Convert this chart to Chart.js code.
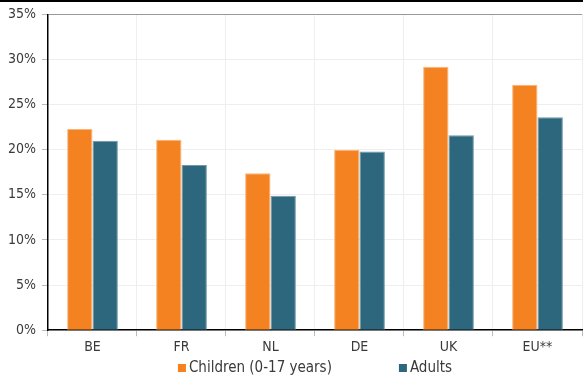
<!DOCTYPE html>
<html>
<head>
<meta charset="utf-8">
<script src="https://cdn.jsdelivr.net/npm/chart.js@4/dist/chart.umd.min.js"></script>
<style>
  html, body { margin: 0; padding: 0; background: #fff; }
  #wrap { width: 583px; height: 379px; position: relative; }
</style>
</head>
<body>
<div id="wrap"><canvas id="chart"></canvas></div>
<script>
// Share of people at risk of poverty, by country
const countries = ['BE', 'FR', 'NL', 'DE', 'UK', 'EU**'];
const children = [22.3, 21.1, 17.4, 20.0, 29.2, 27.2];
const adults = [21.0, 18.3, 14.9, 19.8, 21.6, 23.6];
const yTicks = [0, 5, 10, 15, 20, 25, 30, 35];

const FONT = '"DejaVu Sans Condensed", "DejaVu Sans", sans-serif';
const TEXT = '#3a3a3a';

// Thin frame line along the top of the canvas
const topFrame = {
  id: 'topFrame',
  afterDraw(chart) {
    const ctx = chart.ctx;
    ctx.save();
    ctx.strokeStyle = '#000';
    ctx.lineWidth = 2;
    ctx.beginPath();
    ctx.moveTo(0, 1);
    ctx.lineTo(chart.width, 1);
    ctx.stroke();
    ctx.restore();
  }
};

// Legend row under the axis, centred on the plot area, with a wide gap between entries
const bottomLegend = {
  id: 'bottomLegend',
  afterDraw(chart) {
    const ctx = chart.ctx;
    const area = chart.chartArea;
    const box = 8, gap = 3, spacing = 67;
    ctx.save();
    ctx.font = '15px ' + FONT;
    ctx.textBaseline = 'middle';
    const items = chart.data.datasets.map(ds => ({
      text: ds.label,
      color: ds.backgroundColor,
      w: box + gap + ctx.measureText(ds.label).width
    }));
    const total = items.reduce((s, it) => s + it.w, 0) + spacing * (items.length - 1);
    let x = (area.left + area.right) / 2 - total / 2;
    const y = chart.height - 11;
    items.forEach(it => {
      ctx.fillStyle = it.color;
      ctx.fillRect(x, y - box / 2, box, box);
      ctx.fillStyle = TEXT;
      ctx.fillText(it.text, x + box + gap, y);
      x += it.w + spacing;
    });
    ctx.restore();
  }
};

new Chart(document.getElementById('chart'), {
  type: 'bar',
  data: {
    labels: countries,
    datasets: [
      {
        label: 'Children (0-17 years)',
        data: children,
        backgroundColor: '#F48220',
        borderColor: '#F9B37C',
        borderWidth: 1
      },
      {
        label: 'Adults',
        data: adults,
        backgroundColor: '#2D677D',
        borderColor: '#6F98A8',
        borderWidth: 1
      }
    ]
  },
  options: {
    responsive: true,
    maintainAspectRatio: false,
    animation: false,
    layout: { padding: { top: 13, right: 1, left: 2, bottom: 20 } },
    datasets: {
      bar: { categoryPercentage: 0.57, barPercentage: 1.0 }
    },
    plugins: {
      tooltip: { enabled: false },
      legend: { display: false }
    },
    scales: {
      x: {
        grid: {
          offset: true,
          color: '#eeeeee',
          tickColor: '#bbbbbb',
          tickLength: 6
        },
        border: { color: '#000', width: 1.5 },
        ticks: { color: TEXT, font: { family: FONT, size: 14 }, padding: 3 }
      },
      y: {
        min: 0,
        max: 35,
        afterBuildTicks(axis) { axis.ticks = yTicks.map(v => ({ value: v })); },
        grid: {
          color: ctx => (ctx.tick && ctx.tick.value === 35 ? '#999999' : '#eeeeee'),
          tickColor: '#bbbbbb',
          tickLength: 6
        },
        border: { color: '#000', width: 1.5 },
        ticks: {
          color: TEXT,
          font: { family: FONT, size: 14 },
          padding: 6,
          callback: v => v + '%'
        }
      }
    }
  },
  plugins: [topFrame, bottomLegend]
});
</script>
</body>
</html>
